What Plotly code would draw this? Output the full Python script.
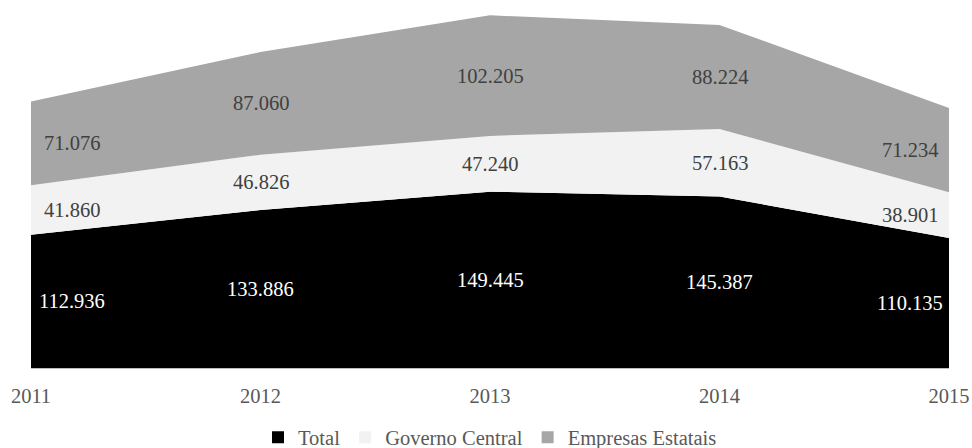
import plotly.graph_objects as go

anos = [2011, 2012, 2013, 2014, 2015]
total = [112.936, 133.886, 149.445, 145.387, 110.135]
governo_central = [41.860, 46.826, 47.240, 57.163, 38.901]
empresas_estatais = [71.076, 87.060, 102.205, 88.224, 71.234]

series = [
    ("Total", total, "#000000", "#ffffff"),
    ("Governo Central", governo_central, "#f2f2f2", "#404040"),
    ("Empresas Estatais", empresas_estatais, "#a6a6a6", "#404040"),
]

FONT = "Liberation Serif, Times New Roman, serif"
FS = 20.5

def fmt(v):
    return f"{v:.3f}"

fig = go.Figure()

# stacked areas
for name, vals, color, _ in series:
    fig.add_trace(go.Scatter(
        x=anos, y=vals, name=name, stackgroup="one",
        mode="none", fillcolor=color, line=dict(width=0),
        showlegend=False, hoverinfo="skip",
    ))

# value labels centred vertically in each band; end labels nudged inward
annotations = []
base = [0.0] * len(anos)
for name, vals, color, txtcolor in series:
    for i, (x, b, v) in enumerate(zip(anos, base, vals)):
        shift = 0
        if i == 0:
            shift = 41
        elif i == len(anos) - 1:
            shift = -39
        annotations.append(dict(
            x=x, y=b + v / 2, xref="x", yref="y", text=fmt(v),
            showarrow=False, xanchor="center", yanchor="middle", xshift=shift,
            font=dict(family=FONT, size=FS, color=txtcolor),
        ))
    base = [b + v for b, v in zip(base, vals)]

# legend entries with square swatches
for name, vals, color, _ in series:
    fig.add_trace(go.Scatter(
        x=[None], y=[None], mode="markers", name=name,
        marker=dict(symbol="square", size=10, color=color),
    ))

fig.update_layout(
    width=972, height=448,
    margin=dict(l=31, r=23, t=14, b=80, autoexpand=False),
    paper_bgcolor="white", plot_bgcolor="white",
    font=dict(family=FONT, size=FS, color="#595959"),
    annotations=annotations,
    showlegend=True,
    legend=dict(orientation="h", x=0.5, xanchor="center",
                yref="container", y=0.068, yanchor="top",
                font=dict(family=FONT, size=FS, color="#595959"),
                itemsizing="constant", traceorder="normal",
                itemwidth=30, tracegroupgap=0),
    xaxis=dict(range=[2011, 2015], tickvals=anos, ticktext=[str(a) for a in anos],
               showgrid=False, zeroline=False, showline=True, linecolor="#bfbfbf",
               linewidth=1, ticks="", ticklabelstandoff=9, automargin=False,
               tickfont=dict(family=FONT, size=FS, color="#595959")),
    yaxis=dict(range=[0, 300], visible=False, showgrid=False, zeroline=False),
)

fig.write_html("out.html")
